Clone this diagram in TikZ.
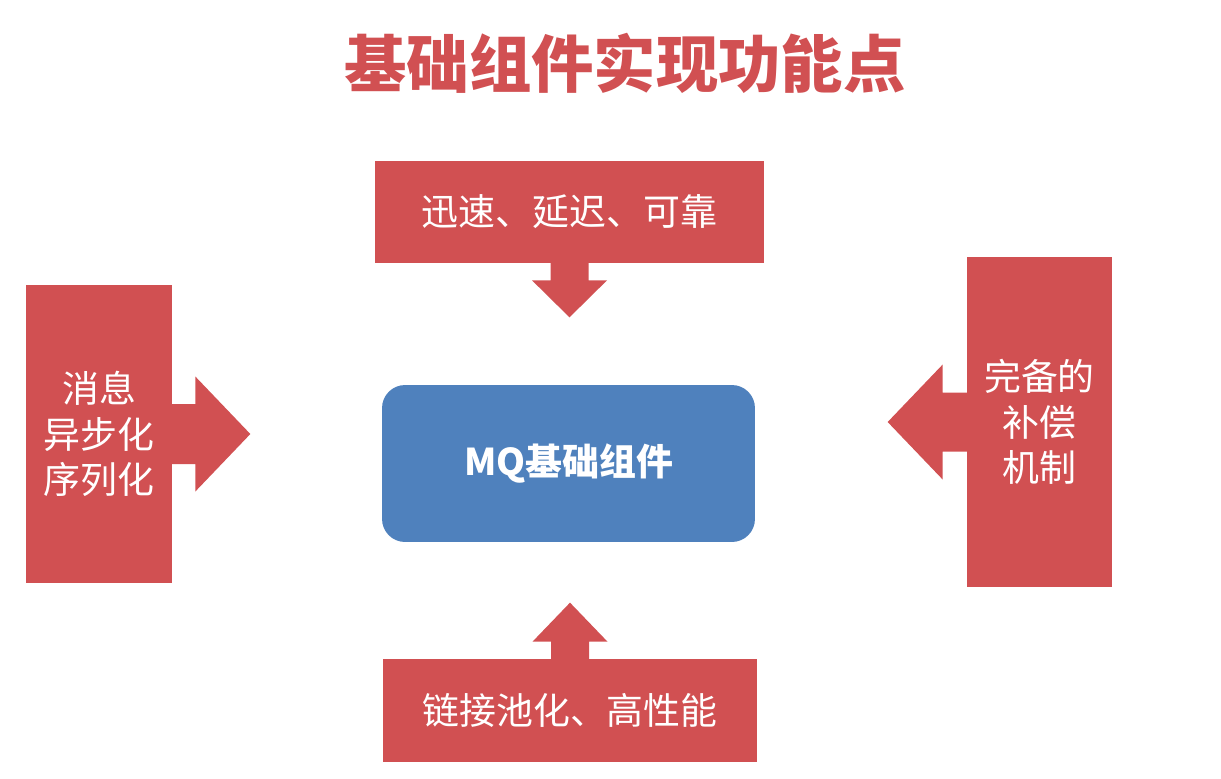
\documentclass[tikz,border=0pt]{standalone}
\usepackage{fontspec}
\newfontfamily\cjk{Noto Sans CJK SC}
\usetikzlibrary{calc}

\definecolor{calloutred}{RGB}{209,80,82}
\definecolor{coreblue}{RGB}{79,129,189}

\begin{document}
\begin{tikzpicture}[x=0.02cm, y=-0.02cm,
    every node/.style={font=\cjk},
    callout/.style={fill=calloutred, text=white, inner sep=0pt, align=center,
        font=\cjk\fontsize{21}{26}\selectfont},
    core/.style={fill=coreblue, text=white, rounded corners=0.46cm, inner sep=0pt,
        minimum width=7.46cm, minimum height=3.14cm,
        font=\cjk\bfseries\fontsize{21}{26}\selectfont}]
\useasboundingbox (0,0) rectangle (1221,778);

% ---------------- Title ----------------
\node[text=calloutred, font=\cjk\bfseries\fontsize{35.5}{40}\selectfont] (title) at (625, 63) {基础组件实现功能点};

% ---------------- Center Component ----------------
\node[core] (mq) at (568.5, 463.5) {MQ基础组件};

% ---------------- Callout Boxes ----------------
\node[callout, minimum width=7.78cm, minimum height=2.04cm] (top) at (569.5, 212) {迅速、延迟、可靠};
\node[callout, minimum width=7.48cm, minimum height=2.06cm] (bottom) at (570, 710.5) {链接池化、高性能};
\node[callout, minimum width=2.92cm, minimum height=5.96cm] (left) at (99, 434) {消息\\异步化\\序列化};
\node[callout, minimum width=2.90cm, minimum height=6.60cm] (right) at (1039.5, 422) {完备的\\补偿\\机制};

% ---------------- Block Arrows ----------------
\fill[calloutred] ([xshift=-0.38cm, yshift=0.02cm]top.south) -- ++(0,18) -- ++(-18.5,0)
    -- ++(37.5,37) -- ++(37.5,-37) -- ++(-18.5,0) -- ++(0,-18) -- cycle;
\fill[calloutred] ([xshift=-0.38cm, yshift=-0.02cm]bottom.north) -- ++(0,-18) -- ++(-18.5,0)
    -- ++(37.5,-39) -- ++(37.5,39) -- ++(-18.5,0) -- ++(0,18) -- cycle;
\fill[calloutred] ([xshift=-0.02cm, yshift=0.60cm]left.east) -- ++(24,0) -- ++(0,-27.5)
    -- ++(55,57.5) -- ++(-55,57.5) -- ++(0,-27.5) -- ++(-24,0) -- cycle;
\fill[calloutred] ([xshift=0.02cm, yshift=0.59cm]right.west) -- ++(-25,0) -- ++(0,-28)
    -- ++(-55,57.5) -- ++(55,57.5) -- ++(0,-28) -- ++(25,0) -- cycle;

\end{tikzpicture}
\end{document}
